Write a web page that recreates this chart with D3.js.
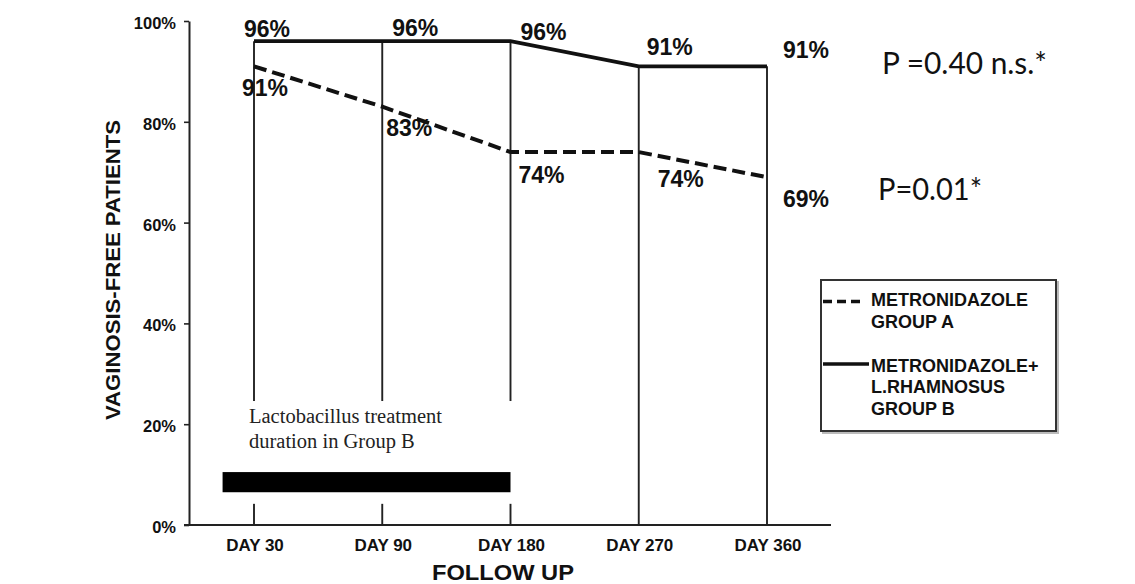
<!DOCTYPE html>
<html>
<head>
<meta charset="utf-8">
<script src="https://cdn.jsdelivr.net/npm/d3@7"></script>
<style>
  html, body { margin: 0; padding: 0; background: #fff; }
  svg { display: block; }
  .bold { font-family: "Liberation Sans", Arial, sans-serif; font-weight: bold; fill: #111; }
</style>
</head>
<body>
<div id="chart"></div>
<script>
// data
const days = ['DAY 30', 'DAY 90', 'DAY 180', 'DAY 270', 'DAY 360'];
const groupA = [91, 83, 74, 74, 69];   // metronidazole, dashed
const groupB = [96, 96, 96, 91, 91];   // metronidazole + L. rhamnosus, solid
const yTicks = [0, 20, 40, 60, 80, 100];
const pValues = ['P =0.40 n.s.*', 'P=0.01*'];
const legendA = ['METRONIDAZOLE', 'GROUP A'];
const legendB = ['METRONIDAZOLE+', 'L.RHAMNOSUS', 'GROUP B'];
const treatmentNote = ['Lactobacillus treatment', 'duration in Group B'];
const treatmentEnd = 'DAY 180';
const treatmentBand = [6.5, 10.5]; // bar height in % units

// label nudges (px), hand placed like the original
const offB = [[-10, -4.5], [10, -5], [10, -1.5], [8, -11.5], [16, -8.5]];
const offA = [[-12, 29.5], [4, 29], [8, 31], [19, 35], [16, 29.5]];

const W = 1135, H = 584;
const svg = d3.select('#chart').append('svg')
  .attr('width', W).attr('height', H);

const x = d3.scalePoint().domain(days).range([254, 767]);
const y = d3.scaleLinear().domain([0, 100]).range([525, 21]);

// ── drop lines ───────────────────────────────────────────
svg.append('g').selectAll('line')
  .data(days)
  .join('line')
  .attr('x1', (d) => x(d)).attr('x2', (d) => x(d))
  .attr('y1', y(0)).attr('y2', (d, i) => y(groupB[i]))
  .attr('stroke', '#222').attr('stroke-width', 1.9);

// white panel behind the treatment note (breaks the drop lines)
const barX0 = x(days[0]) - x.step() * 0.245;
svg.append('rect')
  .attr('x', barX0 - 6).attr('y', y(24.6))
  .attr('width', x(treatmentEnd) - barX0 + 14).attr('height', y(4.2) - y(24.6))
  .attr('fill', '#fff');

// ── axes ─────────────────────────────────────────────────
const yAxis = svg.append('g')
  .attr('transform', `translate(189,0)`)
  .call(d3.axisLeft(y).tickValues(yTicks).tickFormat((d) => d + '%')
    .tickSizeInner(5).tickSizeOuter(0).tickPadding(8));
yAxis.select('.domain').attr('stroke', '#222').attr('stroke-width', 2);
yAxis.selectAll('.tick line').attr('stroke', '#222').attr('stroke-width', 1.6);
yAxis.selectAll('.tick text')
  .attr('class', 'bold')
  .attr('font-size', 16.5)
  .attr('dy', '0.45em');

svg.append('line')
  .attr('x1', 184).attr('x2', 831)
  .attr('y1', y(0)).attr('y2', y(0))
  .attr('stroke', '#222').attr('stroke-width', 2);

svg.append('g').selectAll('text')
  .data(days)
  .join('text')
  .attr('class', 'bold')
  .attr('x', (d) => x(d) + 1).attr('y', 551)
  .attr('text-anchor', 'middle')
  .attr('font-size', 17)
  .text((d) => d);

svg.append('text')
  .attr('class', 'bold')
  .attr('x', 503).attr('y', 580)
  .attr('text-anchor', 'middle')
  .attr('font-size', 22)
  .attr('textLength', 142).attr('lengthAdjust', 'spacingAndGlyphs')
  .text('FOLLOW UP');

svg.append('text')
  .attr('class', 'bold')
  .attr('transform', 'translate(120,270) rotate(-90)')
  .attr('text-anchor', 'middle')
  .attr('font-size', 21)
  .attr('textLength', 300).attr('lengthAdjust', 'spacingAndGlyphs')
  .text('VAGINOSIS-FREE PATIENTS');

// ── series ───────────────────────────────────────────────
const line = (vals) => d3.line()
  .x((d, i) => x(days[i]))
  .y((d) => y(d))(vals);

svg.append('path')
  .attr('d', line(groupB))
  .attr('fill', 'none').attr('stroke', '#111')
  .attr('stroke-width', 3.8);

svg.append('path')
  .attr('d', line(groupA))
  .attr('fill', 'none').attr('stroke', '#111')
  .attr('stroke-width', 4)
  .attr('stroke-dasharray', '13 6');

// value labels
[[groupB, offB], [groupA, offA]].forEach(([vals, off]) => {
  svg.append('g').selectAll('text')
    .data(vals)
    .join('text')
    .attr('class', 'bold')
    .attr('x', (d, i) => x(days[i]) + off[i][0])
    .attr('y', (d, i) => y(d) + off[i][1])
    .attr('font-size', 23)
    .text((d) => d + '%');
});

// ── treatment bar + note ─────────────────────────────────
svg.append('rect')
  .attr('x', barX0).attr('y', y(treatmentBand[1]))
  .attr('width', x(treatmentEnd) - barX0)
  .attr('height', y(treatmentBand[0]) - y(treatmentBand[1]))
  .attr('fill', '#000');

svg.append('g').selectAll('text')
  .data(treatmentNote)
  .join('text')
  .attr('x', 249).attr('y', (d, i) => 423 + i * 25)
  .attr('font-family', '"Liberation Serif", "Times New Roman", serif')
  .attr('font-size', 20.5)
  .attr('fill', '#222')
  .text((d) => d);

// ── p values ─────────────────────────────────────────────
const pPos = [[882, 74, 165], [878, 200, 104]];
svg.append('g').selectAll('text')
  .data(pValues)
  .join('text')
  .attr('x', (d, i) => pPos[i][0]).attr('y', (d, i) => pPos[i][1])
  .attr('font-family', 'Lato, "Open Sans", sans-serif')
  .attr('font-size', 30)
  .attr('fill', '#111')
  .attr('textLength', (d, i) => pPos[i][2]).attr('lengthAdjust', 'spacingAndGlyphs')
  .text((d) => d);

// ── legend ───────────────────────────────────────────────
const lg = svg.append('g').attr('transform', 'translate(821,280)');
lg.append('rect')
  .attr('x', 2).attr('y', 2).attr('width', 235).attr('height', 151)
  .attr('fill', 'none').attr('stroke', '#bbb').attr('stroke-width', 2);
lg.append('rect')
  .attr('width', 235).attr('height', 151)
  .attr('fill', '#fff').attr('stroke', '#333').attr('stroke-width', 2);

lg.append('line')
  .attr('x1', 2).attr('x2', 40).attr('y1', 21.5).attr('y2', 21.5)
  .attr('stroke', '#111').attr('stroke-width', 3.5)
  .attr('stroke-dasharray', '9 5');
lg.append('line')
  .attr('x1', 2).attr('x2', 48).attr('y1', 84).attr('y2', 84)
  .attr('stroke', '#111').attr('stroke-width', 3.5);

lg.append('g').selectAll('text')
  .data(legendA)
  .join('text')
  .attr('class', 'bold')
  .attr('x', 50).attr('y', (d, i) => 26 + i * 21.5)
  .attr('font-size', 18)
  .text((d) => d);
lg.append('g').selectAll('text')
  .data(legendB)
  .join('text')
  .attr('class', 'bold')
  .attr('x', 50).attr('y', (d, i) => 91.5 + i * 21.5)
  .attr('font-size', 18)
  .text((d) => d);
</script>
</body>
</html>
